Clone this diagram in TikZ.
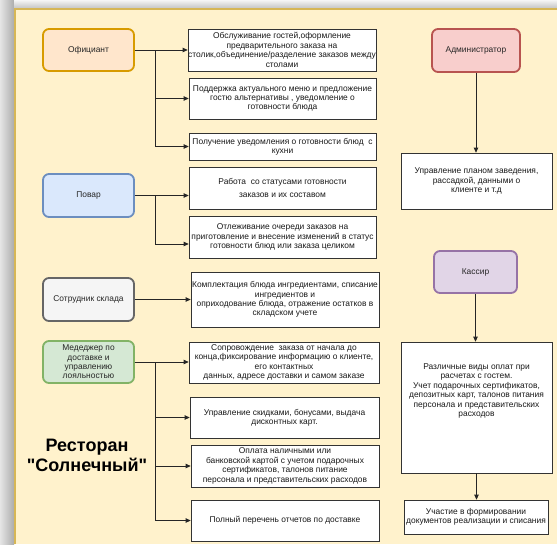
\documentclass[tikz,border=0pt]{standalone}
\usepackage{fontspec}
\setmainfont{Liberation Sans}[Ligatures=TeXOff]
\usetikzlibrary{arrows.meta}
\definecolor{frameFill}{HTML}{FFF2CC}
\definecolor{frameLine}{HTML}{D6B656}
\definecolor{orLine}{HTML}{D79B00}\definecolor{orFill}{HTML}{FFE6CC}
\definecolor{blLine}{HTML}{6C8EBF}\definecolor{blFill}{HTML}{DAE8FC}
\definecolor{grLine}{HTML}{666666}\definecolor{grFill}{HTML}{F5F5F5}
\definecolor{gnLine}{HTML}{82B366}\definecolor{gnFill}{HTML}{D5E8D4}
\definecolor{rdLine}{HTML}{B85450}\definecolor{rdFill}{HTML}{F8CECC}
\definecolor{puLine}{HTML}{9673A6}\definecolor{puFill}{HTML}{E1D5E7}
\begin{document}
\begin{tikzpicture}[x=1pt,y=-1pt,
  role/.style={rounded corners=6pt, line width=1.8pt, minimum width=91pt, minimum height=42pt,
    align=center, font=\fontsize{8.4}{9.4}\selectfont, text=black!85, inner sep=1pt},
  box/.style={draw=black!80, fill=white, line width=0.7pt, align=center,
    font=\fontsize{8.4}{9.4}\selectfont, text=black!90, inner sep=1pt},
  txt/.style={align=center, font=\fontsize{8.4}{9.4}\selectfont, text=black!90, inner sep=0pt},
  arr/.style={-{Triangle[length=5pt,width=4.5pt]}, line width=0.8pt, draw=black!85}]
\useasboundingbox (0,0) rectangle (557,544);
% shadow and frame
\shade[left color=gray!20, right color=gray!65] (0,0) rectangle (14,544);
\shade[top color=gray!8, bottom color=gray!45] (14,0) rectangle (557,8);
\fill[frameFill] (15,9) rectangle (557,544);
\draw[frameLine, line width=2pt] (15,544) -- (15,9) -- (557,9);

% roles
\node[role, draw=orLine, fill=orFill] (ofc) at (88.5,50) {Официант};
\node[role, draw=blLine, fill=blFill, minimum height=43pt] (pov) at (88.5,195.5) {Повар};
\node[role, draw=grLine, fill=grFill, minimum height=43pt] (skl) at (88.5,299.5) {Сотрудник склада};
\node[role, draw=gnLine, fill=gnFill, inner ysep=0pt] (mgr) at (88.5,362)
  {Медеджер по\\ доставке и\\ управлению\\ лояльностью};
\node[role, draw=rdLine, fill=rdFill, minimum width=88pt, minimum height=43pt] (adm) at (476,50.5) {Администратор};
\node[role, draw=puLine, fill=puFill, minimum width=83pt, minimum height=42pt] (kas) at (475.5,272) {Кассир};

% task boxes
\node[box, minimum width=188pt, minimum height=42pt] (b1) at (282,50)
  {Обслуживание гостей,оформление\\ предварительного заказа на\\ \makebox[180pt][c]{столик,объединение/разделение заказов между}\\ столами};
\node[box, minimum width=187pt, minimum height=41pt] (b2) at (282.5,98.5)
  {Поддержка актуального меню и предложение\\ гостю альтернативы , уведомление о\\ готовности блюда};
\node[box, minimum width=187pt, minimum height=27pt] (b3) at (282.5,146.5)
  {Получение уведомления о готовности блюд \ с\\ кухни};
\node[box, minimum width=187pt, minimum height=42pt] (b4) at (282.5,188)
  {Работа \ со статусами готовности\\[3pt] заказов и их составом};
\node[box, minimum width=187pt, minimum height=42pt] (b5) at (282.5,237)
  {Отлеживание очереди заказов на\\ приготовление и внесение изменений в статус\\ готовности блюд или заказа целиком};
\node[box, minimum width=188pt, minimum height=55pt] (b6) at (285,299.5)
  {Комплектация блюда ингредиентами, списание\\ ингредиентов и\\ оприходование блюда, отражение остатков в\\ складском учете};
\node[box, minimum width=190pt, minimum height=41pt, inner sep=0pt] (b7) at (284,362.5)
  {Сопровождение \ заказа от начала до\\ конца,фиксирование информацию о клиенте,\\ его контактных\\ данных, адресе доставки и самом заказе};
\node[box, minimum width=189pt, minimum height=41pt] (b8) at (284.5,417.5)
  {Управление скидками, бонусами, выдача\\ дисконтных карт.};
\node[box, minimum width=188pt, minimum height=42pt, inner sep=0pt] (b9) at (285,466)
  {Оплата наличными или\\ банковской картой с учетом подарочных\\ сертификатов, талонов питание\\ персонала и представительских расходов};
\node[box, minimum width=188pt, minimum height=41pt] (b10) at (285,520.5)
  {Полный перечень отчетов по доставке};
\node[box, minimum width=151pt, minimum height=56pt] (ab) at (476.5,181)
  {Управление планом заведения,\\ рассадкой, данными о\\ клиенте и т.д};
\node[box, minimum width=151pt, minimum height=131pt] (kb1) at (476.5,407.5) {};
\node[txt] (kb1t) at (476.5,391)
  {Различные виды оплат при\\ расчетах с гостем.\\ Учет подарочных сертификатов,\\ депозитных карт, талонов питания\\ персонала и представительских\\ расходов};
\node[box, minimum width=144pt, minimum height=34pt] (kb2) at (476,517)
  {Участие в формировании\\ документов реализации и списания};

% title
\node[font=\bfseries\fontsize{18}{20}\selectfont, align=center, inner sep=0pt] (title) at (87,455)
  {Ресторан\\ "Солнечный"};

% connectors
\draw[arr] (ofc.east) -- (ofc.east -| b1.west);
\draw[arr] (ofc.east) -- ++(20,0) |- (b2.west);
\draw[arr] (ofc.east) -- ++(20,0) |- (b3.west);
\draw[arr] (pov.east) -- (pov.east -| b4.west);
\draw[arr] (pov.east) -- ++(20,0) |- ([yshift=-7pt]b5.west);
\draw[arr] (skl.east) -- (skl.east -| b6.west);
\draw[arr] (mgr.east) -- (mgr.east -| b7.west);
\draw[arr] (mgr.east) -- ++(20,0) |- (b8.west);
\draw[arr] (mgr.east) -- ++(20,0) |- (b9.west);
\draw[arr] (mgr.east) -- ++(20,0) |- (b10.west);
\draw[arr] (adm.south) -- (adm.south |- ab.north);
\draw[arr] (kas.south) -- (kas.south |- kb1.north);
\draw[arr] (kb1.south) -- (kb1.south |- kb2.north);
\end{tikzpicture}
\end{document}
